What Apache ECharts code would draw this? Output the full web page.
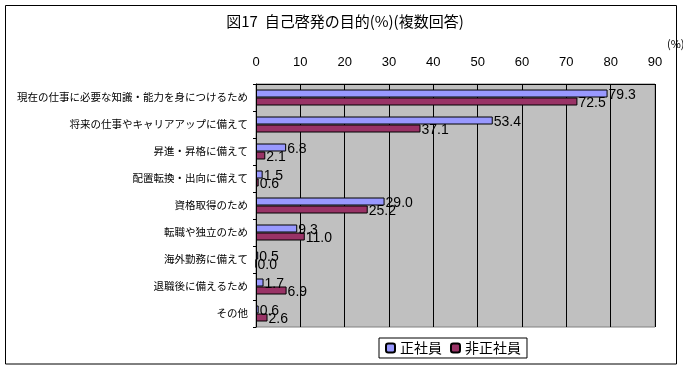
<!DOCTYPE html>
<html>
<head>
<meta charset="utf-8">
<script src="https://cdn.jsdelivr.net/npm/echarts@6/dist/echarts.min.js"></script>
<style>html,body{margin:0;padding:0;background:#fff;}#c{width:683px;height:370px;}</style>
</head>
<body>
<div id="c"></div>
<script>
const categories = ['現在の仕事に必要な知識・能力を身につけるため','将来の仕事やキャリアアップに備えて','昇進・昇格に備えて','配置転換・出向に備えて','資格取得のため','転職や独立のため','海外勤務に備えて','退職後に備えるため','その他'];
const seriesNames = ['正社員','非正社員'];
const regular = [79.3, 53.4, 6.8, 1.5, 29.0, 9.3, 0.5, 1.7, 0.6];
const nonRegular = [72.5, 37.1, 2.1, 0.6, 25.2, 11.0, 0.0, 6.9, 2.6];
const xTicks = [0,10,20,30,40,50,60,70,80,90];

const chart = echarts.init(document.getElementById('c'), null, {renderer:'canvas'});
const cjk = '"Noto Sans CJK JP", sans-serif';
const num = '"Liberation Sans", Arial, sans-serif';
function barSeries(name, data, color, off){
  return {
    name, type:'bar', data, barWidth:8, barGap:'0%',
    itemStyle:{color, borderColor:'#000', borderWidth:1},
    label:{show:true, position:'right', distance:1, offset:[0,off], color:'#000', fontSize:14, fontFamily:num,
      formatter:p=>p.value.toFixed(1)},
    emphasis:{disabled:true}, animation:false
  };
}
chart.setOption({
  animation:false,
  title:[
    {text:'図17  自己啓発の目的(%)(複数回答)', left:340, top:9, textAlign:'center',
     textStyle:{fontSize:15, fontWeight:'normal', color:'#000', fontFamily:cjk}},
    {text:'(%)', left:662, top:33, textStyle:{fontSize:11, fontWeight:'normal', color:'#000', fontFamily:cjk}}
  ],
  graphic:[{type:'rect', shape:{x:5.5,y:5.5,width:671,height:358.5}, style:{fill:null, stroke:'#000', lineWidth:1}, z:-10}],
  legend:{data:seriesNames, left:379, top:338, orient:'horizontal', itemWidth:9, itemHeight:9, itemGap:8,
    borderColor:'#000', borderWidth:1, padding:[3,6,3,6], backgroundColor:'#fff',
    textStyle:{fontSize:14, color:'#000', fontFamily:cjk}},
  grid:{left:256, top:84, width:399, height:243, show:true, backgroundColor:'#C0C0C0', borderColor:'#808080', borderWidth:1},
  xAxis:{type:'value', position:'top', min:0, max:90, interval:10,
    axisLine:{show:true, lineStyle:{color:'#000'}}, axisTick:{show:false},
    splitLine:{show:true, lineStyle:{color:'#000', width:1}},
    axisLabel:{margin:15, fontSize:13, color:'#000', fontFamily:num,
      formatter:v=>xTicks.includes(v)?String(v):''}},
  yAxis:{type:'category', data:categories, inverse:true,
    axisLine:{show:true, lineStyle:{color:'#000'}},
    axisTick:{show:true, length:3, lineStyle:{color:'#000'}},
    axisLabel:{margin:8, fontSize:10.5, color:'#000', fontFamily:cjk}},
  series:[barSeries(seriesNames[0], regular, '#9999FF', 1.5), barSeries(seriesNames[1], nonRegular, '#993366', 1.5)]
});
</script>
</body>
</html>
